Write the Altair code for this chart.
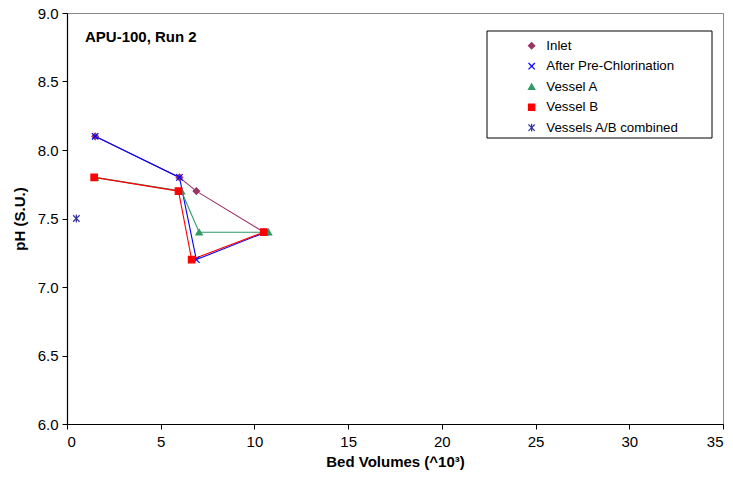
import altair as alt
import pandas as pd

series_names = ["Inlet", "After Pre-Chlorination", "Vessel A", "Vessel B", "Vessels A/B combined"]
colors = ["#993366", "#0000FF", "#339966", "#FF0000", "#333399"]
shapes = ["diamond", "M-1,-1L1,1M-1,1L1,-1", "triangle-up", "square",
          "M-1,-1L1,1M-1,1L1,-1M0,-1.2L0,1.2"]

inlet_x = [1.5, 6.0, 6.9, 10.5]
inlet_y = [8.1, 7.8, 7.7, 7.4]
prechl_x = [1.5, 6.0, 6.9, 10.6]
prechl_y = [8.1, 7.8, 7.2, 7.4]
vesA_x = [1.5, 6.1, 7.05, 10.75]
vesA_y = [7.8, 7.7, 7.4, 7.4]
vesB_x = [1.45, 5.95, 6.65, 10.5]
vesB_y = [7.8, 7.7, 7.2, 7.4]
comb_x = [0.5]
comb_y = [7.5]

rows = []
for name, xs, ys in [
    ("Inlet", inlet_x, inlet_y),
    ("After Pre-Chlorination", prechl_x, prechl_y),
    ("Vessel A", vesA_x, vesA_y),
    ("Vessel B", vesB_x, vesB_y),
    ("Vessels A/B combined", comb_x, comb_y),
]:
    for i, (xv, yv) in enumerate(zip(xs, ys)):
        rows.append({"series": name, "bv": xv, "ph": yv, "idx": i})
df = pd.DataFrame(rows)

FONT = "Liberation Sans"

xenc = alt.X("bv:Q", scale=alt.Scale(domain=[0, 35], nice=False),
             axis=alt.Axis(values=[0, 5, 10, 15, 20, 25, 30, 35], title="Bed Volumes (^10³)",
                           grid=False, tickSize=5, labelPadding=5, titlePadding=5))
yenc = alt.Y("ph:Q", scale=alt.Scale(domain=[6, 9], nice=False, zero=False),
             axis=alt.Axis(values=[6.0, 6.5, 7.0, 7.5, 8.0, 8.5, 9.0], format=".1f",
                           title="pH (S.U.)", grid=False, tickSize=5, labelPadding=4,
                           titlePadding=10))

color_scale = alt.Scale(domain=series_names, range=colors)
shape_scale = alt.Scale(domain=series_names, range=shapes)

legend = alt.Legend(title=None, orient="none", legendX=420, legendY=18,
                    padding=8,
                    labelFont=FONT, labelFontSize=13.3, labelColor="black", symbolSize=40,
                    symbolOffset=30, rowPadding=6.5, labelOffset=8, labelLimit=400,
                    symbolStrokeWidth=1.2, cornerRadius=0)

# legend frame (decoration)
frame = alt.Chart(pd.DataFrame({"a": [0]})).mark_rect(
    fill="white", stroke="black", strokeWidth=1
).encode(x=alt.value(420), x2=alt.value(645), y=alt.value(18), y2=alt.value(125))

lines = alt.Chart(df).mark_line(strokeWidth=1.1).encode(
    x=xenc, y=yenc,
    color=alt.Color("series:N", scale=color_scale, sort=series_names, legend=legend),
    detail="series:N",
    order=alt.Order("idx:Q"),
)

points = alt.Chart(df).mark_point(filled=True, size=42, strokeWidth=1.2, opacity=1).encode(
    x=xenc, y=yenc,
    color=alt.Color("series:N", scale=color_scale, sort=series_names, legend=legend),
    shape=alt.Shape("series:N", scale=shape_scale, sort=series_names, legend=legend),
    stroke=alt.Stroke("series:N", scale=color_scale, sort=series_names, legend=legend),
)

label = alt.Chart(pd.DataFrame({"t": ["APU-100, Run 2"]})).mark_text(
    align="left", baseline="middle", font=FONT, fontSize=15, fontWeight="bold", color="black"
).encode(x=alt.value(18), y=alt.value(24), text="t:N")

chart = alt.layer(frame, lines, points, label).properties(
    width=656, height=411,
    padding={"left": 67, "top": 13, "right": 10, "bottom": 56},
    autosize=alt.AutoSizeParams(type="none"),
).configure_view(stroke="#888888", strokeWidth=1).configure_axis(
    labelFont=FONT, titleFont=FONT, labelFontSize=15, titleFontSize=15,
    titleFontWeight="bold", domainColor="black", tickColor="black",
    labelColor="black", titleColor="black", domainWidth=1.2
)

chart.save("out.html", embed_options={"renderer": "svg", "actions": False})
